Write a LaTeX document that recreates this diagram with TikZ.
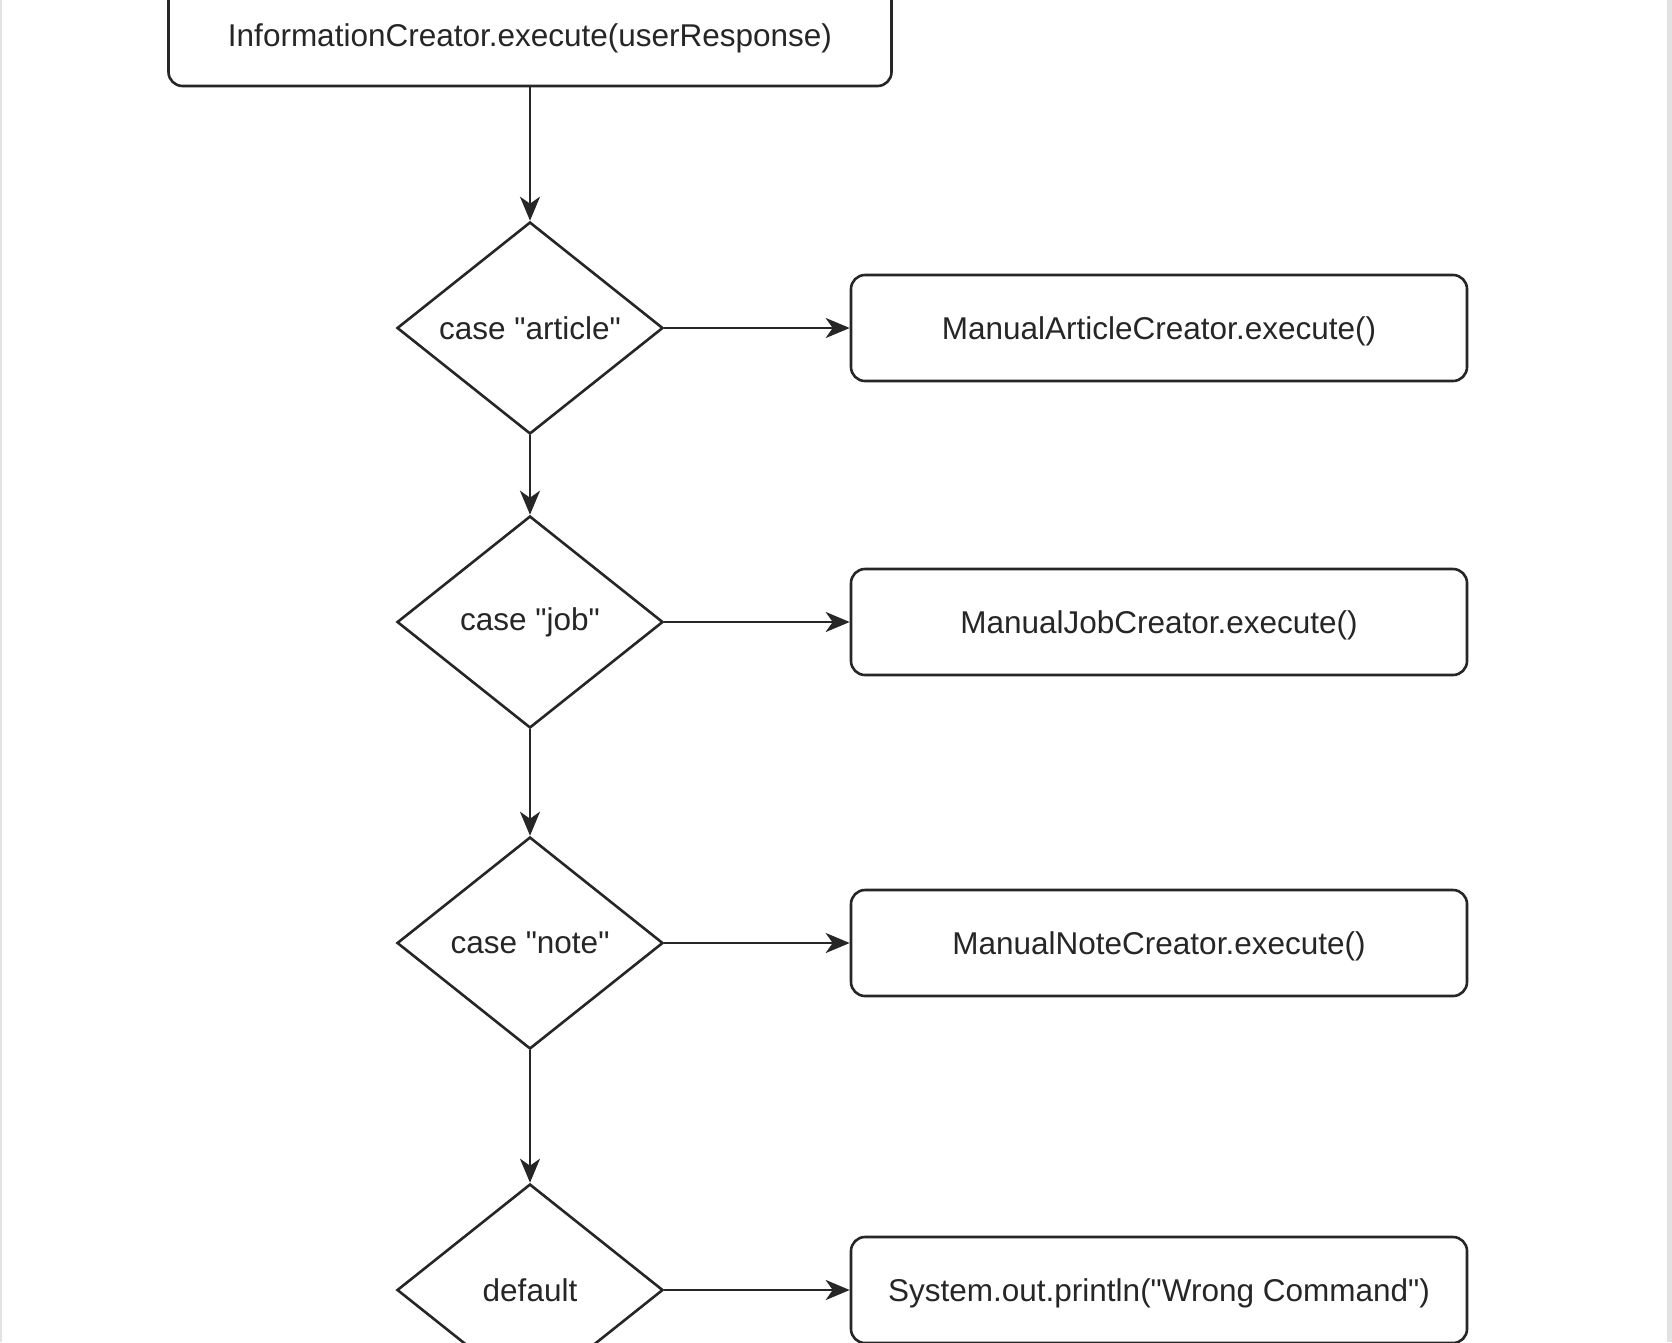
\documentclass[tikz,border=0pt]{standalone}
\usepackage{fontspec}
\setmainfont{Liberation Sans}[Ligatures=TeXOff]
\usetikzlibrary{shapes.geometric,arrows.meta}
\definecolor{ink}{HTML}{262626}
\definecolor{frame}{HTML}{E2E2E2}
\tikzset{
  every node/.style={font=\fontsize{31.5}{38}\selectfont, text=ink},
  procbox/.style={draw=ink, line width=2.6pt, rounded corners=14pt, fill=white,
    minimum width=616pt, minimum height=106pt, inner sep=0pt, text depth=0pt},
  casebox/.style={draw=ink, line width=2.6pt, diamond, fill=white, inner sep=0pt,
    minimum width=266pt, minimum height=212pt, aspect=1.25},
  flow/.style={draw=ink, line width=2.6pt, -{Stealth[length=24pt, width=20pt, inset=7pt]}}
}
\begin{document}
\begin{tikzpicture}[x=1pt, y=-1pt]
\useasboundingbox (0,0) rectangle (1672,1342);
\clip (0,0) rectangle (1672,1342);
\fill[white] (0,0) rectangle (1672,1342);
% page edges
\fill[frame] (1667,0) rectangle (1672,1342);
\fill[frame] (0,0) rectangle (1.5,1342);

% entry call
\node[procbox, minimum width=723pt, minimum height=102pt] (start) at (530,35) {InformationCreator.execute(userResponse)};

% switch cases
\node[casebox] (c1) at (530,328) {case "article"};
\node[casebox] (c2) at (530,622) {case "job"};
\node[casebox] (c3) at (530,943) {case "note"};
\node[casebox] (c4) at (530,1290) {default};

% actions
\node[procbox] (a1) at (1159,328) {ManualArticleCreator.execute()};
\node[procbox] (a2) at (1159,622) {ManualJobCreator.execute()};
\node[procbox] (a3) at (1159,943) {ManualNoteCreator.execute()};
\node[procbox] (a4) at (1159,1290) {System.out.println("Wrong Command")};

% control flow
\draw[flow] (start) -- (c1);
\draw[flow] (c1) -- (c2);
\draw[flow] (c2) -- (c3);
\draw[flow] (c3) -- (c4);
\draw[flow] (c1) -- (a1);
\draw[flow] (c2) -- (a2);
\draw[flow] (c3) -- (a3);
\draw[flow] (c4) -- (a4);
\end{tikzpicture}
\end{document}
